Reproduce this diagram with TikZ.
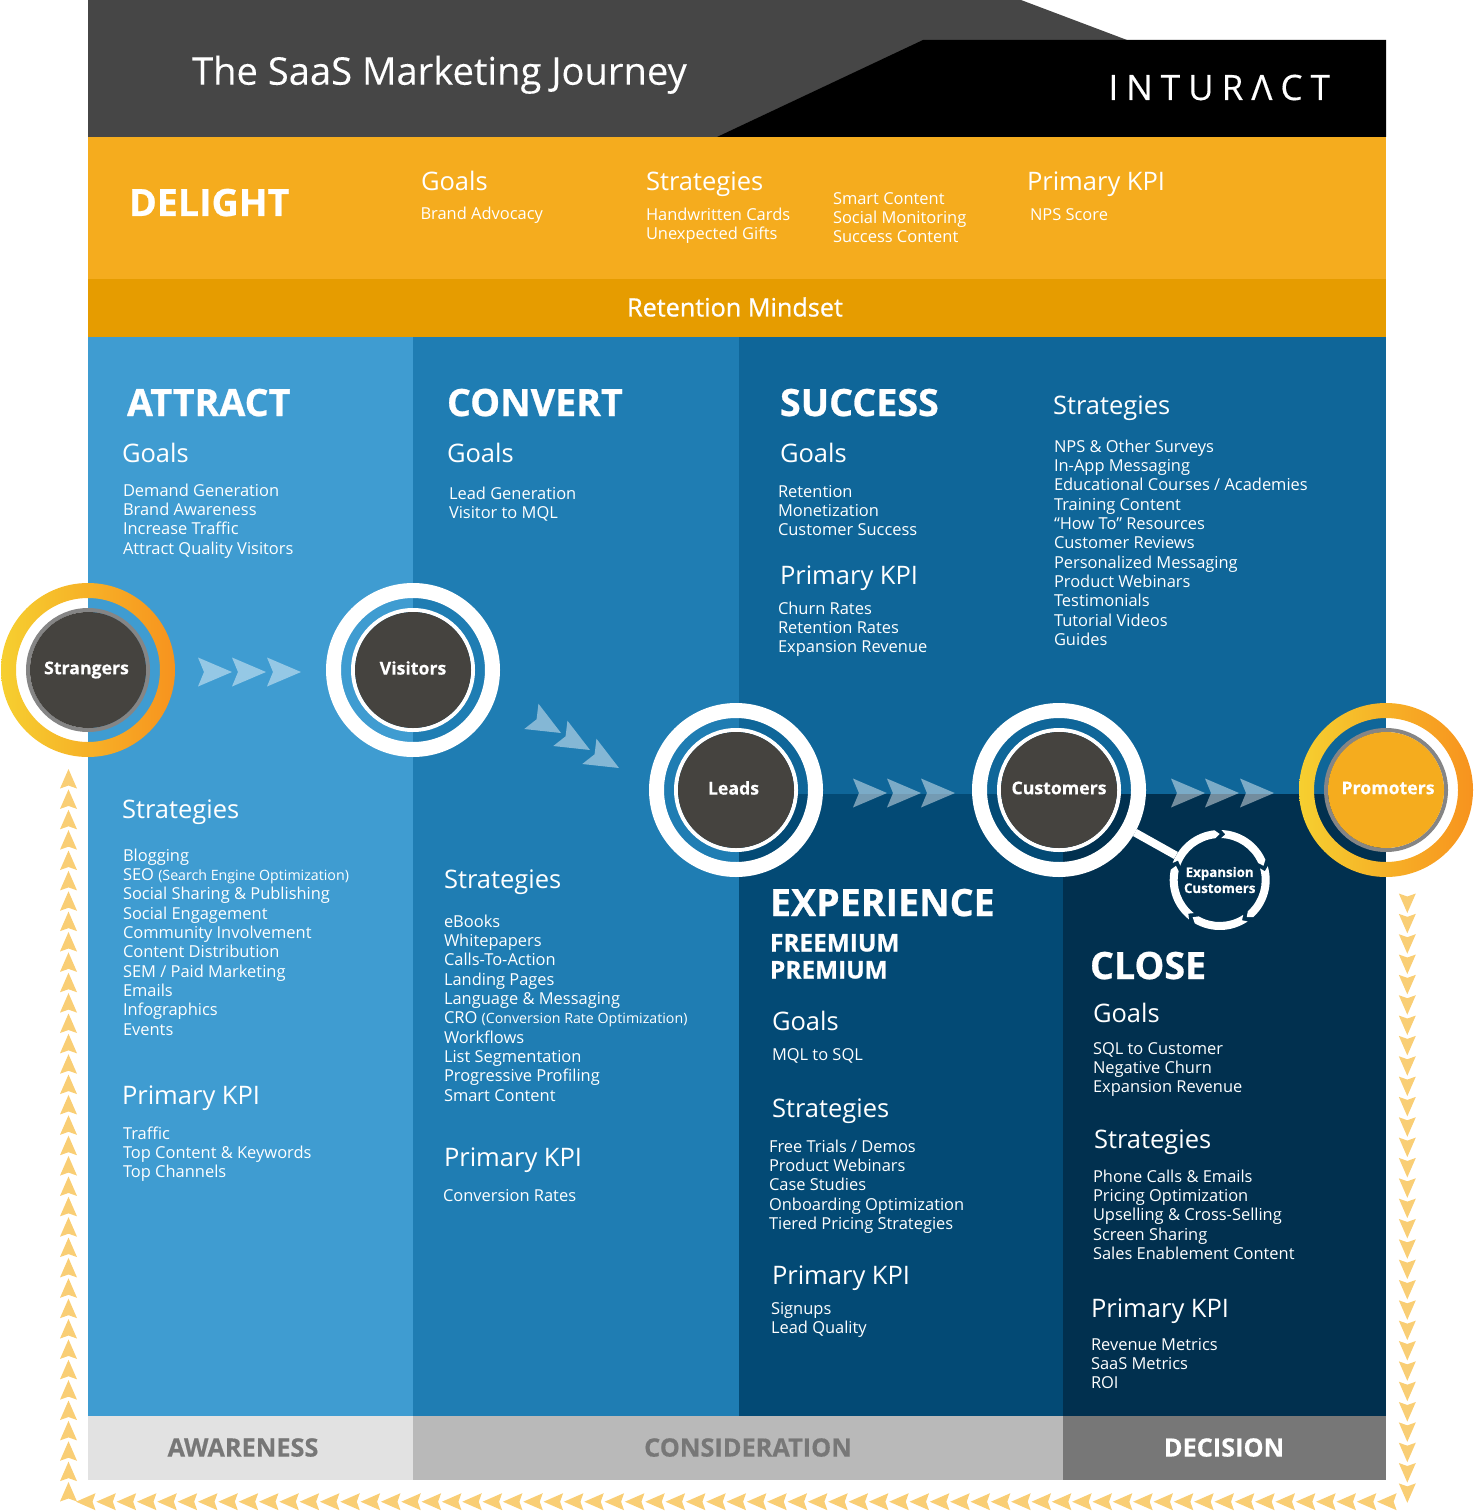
\documentclass[tikz,border=0pt]{standalone}
\usepackage{fontspec}
\setmainfont{Open Sans}
\definecolor{cAttract}{HTML}{3F9CD1}
\definecolor{cConvert}{HTML}{1F7DB3}
\definecolor{cSuccess}{HTML}{0F6699}
\definecolor{cExper}{HTML}{034A75}
\definecolor{cClose}{HTML}{01304F}
\definecolor{cDelight}{HTML}{F5AC1E}
\definecolor{cRetain}{HTML}{E69C00}
\definecolor{cHead}{HTML}{464646}
\definecolor{cDisc}{HTML}{45433F}
\definecolor{cRing}{HTML}{858585}
\definecolor{cYell}{HTML}{F9CE75}
\definecolor{gYell}{HTML}{F6CF30}
\definecolor{gOran}{HTML}{F7931E}
\definecolor{cBarA}{HTML}{E2E2E2}
\definecolor{cBarB}{HTML}{B9B9B9}
\definecolor{cBarC}{HTML}{777777}
\tikzset{
  basetxt/.style={anchor=base west,inner sep=0pt,outer sep=0pt,text=white},
  headtx/.style={basetxt,font=\fontsize{25.5}{30}\selectfont},
  bigtx/.style={basetxt,font=\fontsize{37.6}{44}\selectfont\bfseries\addfontfeature{FakeBold=0.7}},
  subtx/.style={basetxt,font=\fontsize{24.4}{30}\selectfont\bfseries\addfontfeature{FakeBold=0.7}},
  blocktx/.style={anchor=north west,inner sep=0pt,outer sep=0pt,text=white,align=left,font=\fontsize{16.45}{19.3}\selectfont},
  bartx/.style={inner sep=0pt,font=\fontsize{25.3}{30}\selectfont\bfseries\addfontfeature{FakeBold=0.4}},
  disc/.style={circle,inner sep=0pt,minimum size=116pt,text=white,font=\fontsize{17.7}{20}\selectfont\bfseries\addfontfeature{FakeBold=0.3}},
  bigring/.style={circle,inner sep=0pt,draw=white,line width=15pt,minimum size=159pt},
  thinring/.style={circle,inner sep=0pt,line width=4pt,minimum size=120pt},
  chevfill/.style={fill=white,fill opacity=0.45},
}
\newcommand\headtxt[4]{\node[headtx] (#1) at (#2,{#3+0.5}) {#4};}
\newcommand\blocktxt[4]{\node[blocktx] (#1) at (#2,{#3-13.7}) {\rule{0pt}{14pt}#4};}
\newcommand\chev[3]{\fill[chevfill,shift={(#1,#2)},rotate=#3] (0pt,0pt) -- (-34pt,14.5pt) -- (-28pt,0pt) -- (-34pt,-14.5pt) -- cycle;}
\newcommand\yarrow[3]{\fill[cYell,shift={(#1,#2)},rotate=#3] (0pt,0pt) -- (-19.5pt,8.5pt) -- (-16.5pt,0pt) -- (-19.5pt,-8.5pt) -- cycle;}
\newcommand\disclabel[1]{\vphantom{g}#1}
\begin{document}
\begin{tikzpicture}[x=1pt,y=-1pt]
\useasboundingbox (0,0) rectangle (1473,1511);
% header
\fill[cHead] (88,0) -- (1021,0) -- (1127,40) -- (1127,137) -- (88,137) -- cycle;
\fill[black] (923,40) -- (1386,40) -- (1386,137) -- (717,137) -- cycle;
\fill[cDelight] (88,137) rectangle (1386,279);
\fill[cRetain] (88,279) rectangle (1386,337);
% columns
\fill[cAttract] (88,337) rectangle (413,1416);
\fill[cConvert] (413,337) rectangle (739,1416);
\fill[cSuccess] (739,337) rectangle (1386,794);
\fill[cExper] (739,794) rectangle (1063,1416);
\fill[cClose] (1063,794) rectangle (1386,1416);
\fill[cBarA] (88,1416) rectangle (413,1480);
\fill[cBarB] (413,1416) rectangle (1063,1480);
\fill[cBarC] (1063,1416) rectangle (1386,1480);
% bar labels
\node[bartx,text=cBarC] (awareness) at (243,1447.5) {AWARENESS};
\node[bartx,text=cBarC] (consideration) at (748,1447.5) {CONSIDERATION};
\node[bartx,text=white] (decision) at (1224,1447.5) {DECISION};
% title
\node[basetxt,font=\fontsize{38.15}{44}\selectfont\addfontfeature{FakeBold=0.15}] (title) at (192,84.7) {The SaaS Marketing Journey};
\node[basetxt,font=\fontsize{35}{40}\selectfont\addfontfeature{LetterSpace=23,FakeBold=0.3}] (logo) at (1108.5,100) {INTURΛCT};
% delight
\node[bigtx] (delight) at (129,216) {DELIGHT};
\headtxt{dg}{421}{190}{Goals}
\blocktxt{dgl}{420.5}{219}{Brand Advocacy}
\headtxt{ds}{646}{190}{Strategies}
\blocktxt{dsl}{646}{220}{Handwritten Cards\\Unexpected Gifts}
\blocktxt{dsm}{833}{204}{Smart Content\\Social Monitoring\\Success Content}
\headtxt{dk}{1027}{190}{Primary KPI}
\blocktxt{dkl}{1030}{220}{NPS Score}
\node[inner sep=0pt,text=white,font=\fontsize{25.2}{30}\selectfont\addfontfeature{FakeBold=0.8}] (retention) at (735,307) {Retention Mindset};
% attract
\node[bigtx] (attract) at (127,416) {ATTRACT};
\headtxt{ag}{122}{462}{Goals}
\blocktxt{agl}{123}{496}{Demand Generation\\Brand Awareness\\Increase Traffic\\Attract Quality Visitors}
\headtxt{as}{122}{818}{Strategies}
\blocktxt{asl}{123}{861}{Blogging\\SEO {\fontsize{14.2}{19.3}\selectfont(Search Engine Optimization)}\\Social Sharing \& Publishing\\Social Engagement\\Community Involvement\\Content Distribution\\SEM / Paid Marketing\\Emails\\Infographics\\Events}
\headtxt{ak}{122}{1104}{Primary KPI}
\blocktxt{akl}{123}{1139}{Traffic\\Top Content \& Keywords\\Top Channels}
% convert
\node[bigtx] (convert) at (447,416) {CONVERT};
\headtxt{cg}{447}{462}{Goals}
\blocktxt{cgl}{449}{499}{Lead Generation\\Visitor to MQL}
\headtxt{cs}{444}{888}{Strategies}
\blocktxt{csl}{444}{927}{eBooks\\Whitepapers\\Calls-To-Action\\Landing Pages\\Language \& Messaging\\CRO {\fontsize{14.2}{19.3}\selectfont(Conversion Rate Optimization)}\\Workflows\\List Segmentation\\Progressive Profiling\\Smart Content}
\headtxt{ck}{444}{1166}{Primary KPI}
\blocktxt{ckl}{443}{1201}{Conversion Rates}
% success
\node[bigtx] (success) at (780,416) {SUCCESS};
\headtxt{sg}{780}{462}{Goals}
\blocktxt{sgl}{778}{497}{Retention\\Monetization\\Customer Success}
\headtxt{sk}{780}{584}{Primary KPI}
\blocktxt{skl}{778}{614}{Churn Rates\\Retention Rates\\Expansion Revenue}
\headtxt{ss}{1053}{414}{Strategies}
\blocktxt{ssl}{1054}{452}{NPS \& Other Surveys\\In-App Messaging\\Educational Courses / Academies\\Training Content\\“How To” Resources\\Customer Reviews\\Personalized Messaging\\Product Webinars\\Testimonials\\Tutorial Videos\\Guides}
% experience
\node[bigtx] (experience) at (770,916) {EXPERIENCE};
\node[subtx] (freemium) at (770,951.5) {FREEMIUM};
\node[subtx] (premium) at (770,978.5) {PREMIUM};
\headtxt{eg}{772}{1030}{Goals}
\blocktxt{egl}{772}{1060}{MQL to SQL}
\headtxt{es}{772}{1117}{Strategies}
\blocktxt{esl}{769}{1152}{Free Trials / Demos\\Product Webinars\\Case Studies\\Onboarding Optimization\\Tiered Pricing Strategies}
\headtxt{ek}{772}{1284}{Primary KPI}
\blocktxt{ekl}{771}{1314}{Signups\\Lead Quality}
% close
\node[bigtx] (close) at (1090,979) {CLOSE};
\headtxt{lg}{1093}{1022}{Goals}
\blocktxt{lgl}{1093}{1054}{SQL to Customer\\Negative Churn\\Expansion Revenue}
\headtxt{ls}{1094}{1148}{Strategies}
\blocktxt{lsl}{1093}{1182}{Phone Calls \& Emails\\Pricing Optimization\\Upselling \& Cross-Selling\\Screen Sharing\\Sales Enablement Content}
\headtxt{lk}{1091}{1317}{Primary KPI}
\blocktxt{lkl}{1091}{1350}{Revenue Metrics\\SaaS Metrics\\ROI}
% chevrons
\chev{232}{672}{0}\chev{266}{672}{0}\chev{301}{672}{0}
\chev{561}{733}{-29.3}\chev{590}{750}{-29.3}\chev{619}{768}{-29.3}
\chev{887}{793}{0}\chev{921}{793}{0}\chev{955}{793}{0}
\chev{1205}{793}{0}\chev{1239}{793}{0}\chev{1274}{793}{0}
% yellow arrows
\foreach \i in {0,...,35} {\pgfmathsetmacro\py{1482-\i*20.37}\yarrow{68.5}{\py}{90}}
\foreach \i in {0,...,64} {\pgfmathsetmacro\px{76+\i*20.33}\yarrow{\px}{1501.7}{180}}
\foreach \i in {0,...,29} {\pgfmathsetmacro\py{913+\i*20.34}\yarrow{1407.3}{\py}{-90}}
% stage rings
\shade[even odd rule,left color=gYell,right color=gOran] (88,670) circle [radius=87pt] (88,670) circle [radius=72pt];
\shade[even odd rule,left color=gYell,right color=gOran] (1386,790) circle [radius=87pt] (1386,790) circle [radius=72pt];
\node[bigring] (visring) at (413,670) {};
\node[bigring] (leadring) at (736,790) {};
\node[bigring] (custring) at (1059,790) {};
\node[thinring,draw=cRing] (strthin) at (88,670) {};
\node[thinring,draw=white] (visthin) at (413,670) {};
\node[thinring,draw=white] (leadthin) at (736,790) {};
\node[thinring,draw=white] (custthin) at (1059,790) {};
\node[thinring,draw=cRing] (prothin) at (1386,790) {};
\node[disc,fill=cDisc] (strangers) at (88,670) {\hspace*{-3pt}\disclabel{Strangers}};
\node[disc,fill=cDisc] (visitors) at (413,670) {\disclabel{Visitors}};
\node[disc,fill=cDisc] (leads) at (736,790) {\hspace*{-5pt}\disclabel{Leads}};
\node[disc,fill=cDisc] (customers) at (1059,790) {\disclabel{Customers}};
\node[disc,fill=cDelight] (promoters) at (1386,790) {\hspace*{4pt}\disclabel{Promoters}};
% expansion
\node[circle,inner sep=0pt,minimum size=100pt,text=white,align=center,font=\fontsize{13.3}{16}\selectfont\bfseries\addfontfeature{FakeBold=0.3}] (expansion) at (1219.7,880) {Expansion\\Customers};
\draw[white,line width=8pt] (custring) -- (expansion);
\foreach \a in {88,16,-56,-128,-200} {
  \pgfmathsetmacro\b{\a-64}
  \pgfmathsetmacro\c{\a-70}
  \pgfmathsetmacro\d{\a-5}
  \fill[white,shift={(expansion.center)}] (\a:50pt) arc[start angle=\a,end angle=\b,radius=50pt] -- (\c:46pt) -- (\b:42pt) arc[start angle=\b,end angle=\a,radius=42pt] -- (\d:46pt) -- cycle;
}
\end{tikzpicture}
\end{document}
